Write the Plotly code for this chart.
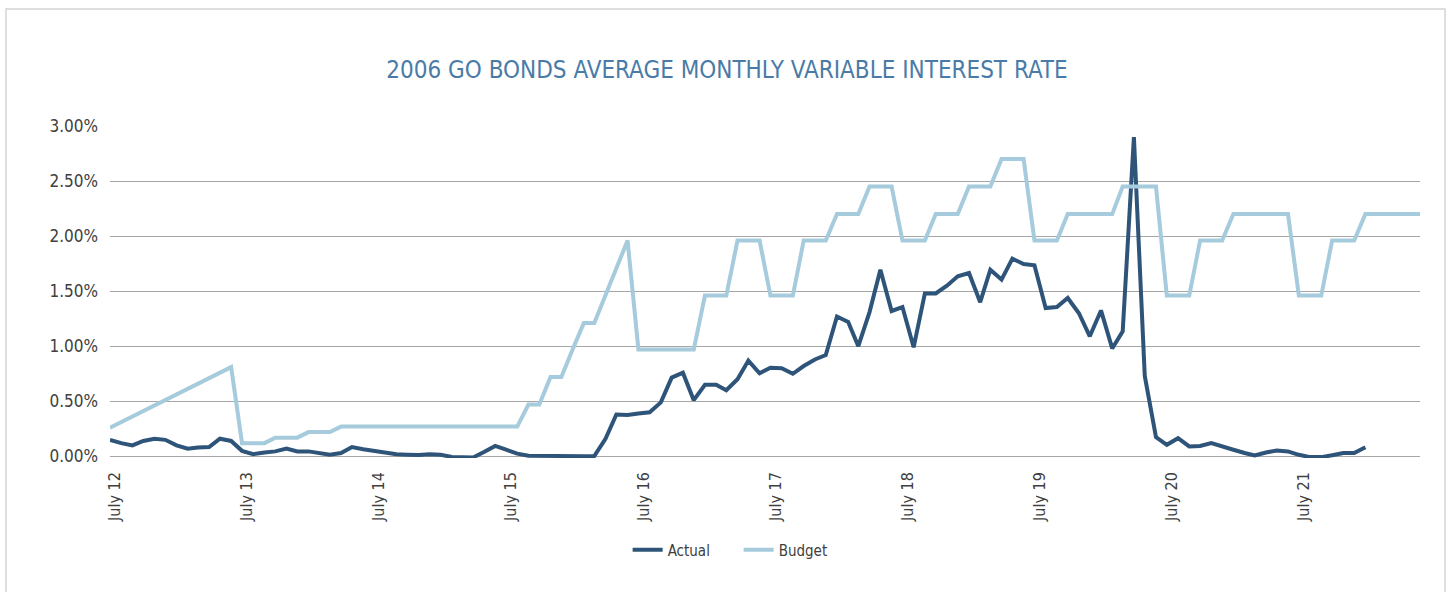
import plotly.graph_objects as go
import pandas as pd

# monthly points, July 2012 - June 2022
months = pd.date_range("2012-07-01", periods=120, freq="MS")

# rates in percent
actual = [
    0.15, 0.12, 0.10, 0.14, 0.16, 0.15, 0.10, 0.07, 0.08, 0.085, 0.16, 0.14,
    0.05, 0.02, 0.035, 0.045, 0.07, 0.045, 0.045, 0.025, 0.015, 0.03, 0.085, 0.065,
    0.05, 0.035, 0.02, 0.015, 0.012, 0.02, 0.015, -0.005, -0.005, -0.01, 0.04, 0.095,
    0.06, 0.025, 0.005, 0.003, 0.002, 0.002, 0.002, 0.002, 0.003, 0.16, 0.38, 0.375,
    0.39, 0.40, 0.49, 0.715, 0.76, 0.51, 0.65, 0.65, 0.60, 0.70, 0.87, 0.755,
    0.805, 0.80, 0.75, 0.82, 0.88, 0.92, 1.27, 1.22, 1.00, 1.31, 1.695, 1.32,
    1.356, 0.99, 1.48, 1.48, 1.55, 1.635, 1.665, 1.40, 1.695, 1.605, 1.795, 1.747,
    1.735, 1.347, 1.356, 1.438, 1.30, 1.09, 1.325, 0.98, 1.135, 2.90, 0.73, 0.174,
    0.105, 0.165, 0.09, 0.095, 0.12, 0.095, 0.06, 0.03, 0.008, 0.035, 0.053, 0.045,
    0.014, -0.007, -0.007, 0.01, 0.03, 0.03, 0.083, None, None, None, None, None,
]

budget = [
    0.26, 0.31, 0.36, 0.41, 0.46, 0.51, 0.56, 0.61, 0.66, 0.71, 0.76, 0.81,
    0.12, 0.12, 0.12, 0.17, 0.17, 0.17, 0.22, 0.22, 0.22, 0.27, 0.27, 0.27,
    0.27, 0.27, 0.27, 0.27, 0.27, 0.27, 0.27, 0.27, 0.27, 0.27, 0.27, 0.27,
    0.27, 0.27, 0.47, 0.47, 0.72, 0.72, 0.97, 1.21, 1.21, 1.46, 1.71, 1.96,
    0.97, 0.97, 0.97, 0.97, 0.97, 0.97, 1.46, 1.46, 1.46, 1.96, 1.96, 1.96,
    1.46, 1.46, 1.46, 1.96, 1.96, 1.96, 2.20, 2.20, 2.20, 2.45, 2.45, 2.45,
    1.96, 1.96, 1.96, 2.20, 2.20, 2.20, 2.45, 2.45, 2.45, 2.70, 2.70, 2.70,
    1.96, 1.96, 1.96, 2.20, 2.20, 2.20, 2.20, 2.20, 2.45, 2.45, 2.45, 2.45,
    1.46, 1.46, 1.46, 1.96, 1.96, 1.96, 2.20, 2.20, 2.20, 2.20, 2.20, 2.20,
    1.46, 1.46, 1.46, 1.96, 1.96, 1.96, 2.20, 2.20, 2.20, 2.20, 2.20, 2.20,
]

y_ticks = [0, 0.5, 1.0, 1.5, 2.0, 2.5, 3.0]
y_labels = ["0.00%", "0.50%", "1.00%", "1.50%", "2.00%", "2.50%", "3.00%"]

FONT = "Liberation Sans Narrow, DejaVu Sans Condensed, Roboto, sans-serif"
TEXT = "#404040"

fig = go.Figure()
fig.add_trace(go.Scatter(x=months, y=actual, name="Actual", mode="lines",
                         line=dict(color="#2f5479", width=4)))
fig.add_trace(go.Scatter(x=months, y=budget, name="Budget", mode="lines",
                         line=dict(color="#a5cbdc", width=4)))

# outer light frame around the whole chart
fig.add_shape(type="rect", xref="paper", yref="paper",
              x0=-0.0794, x1=1.0191, y0=-0.43, y1=1.3527,
              line=dict(color="#d4d4d4", width=1.5), layer="below")

fig.update_layout(
    width=1454, height=592,
    margin=dict(l=110, r=34, t=126, b=134),
    paper_bgcolor="white", plot_bgcolor="white",
    font=dict(family=FONT, color=TEXT, size=16),
    title=dict(text="2006 GO BONDS AVERAGE MONTHLY VARIABLE INTEREST RATE",
               x=0.5, xref="container", xanchor="center",
               y=0.882, yref="container", yanchor="middle",
               font=dict(family=FONT, size=24, color="#4a7ba7")),
    legend=dict(orientation="h", x=0.508, xref="container", xanchor="center",
                y=0.071, yref="container", yanchor="middle",
                font=dict(size=15, color=TEXT), itemwidth=30, entrywidth=66),
    showlegend=True,
)

fig.update_xaxes(
    range=[months[0], months[-1]],
    tick0="2012-07-01", dtick="M12", tickformat="%B %y",
    tickangle=-90, ticklabelshift=5, ticklabelstandoff=10,
    showgrid=False, zeroline=False, showline=False, ticks="",
    tickfont=dict(size=16, color=TEXT),
)

fig.update_yaxes(
    range=[-0.015, 3.0],
    tickvals=y_ticks, ticktext=y_labels,
    showgrid=True, gridcolor="#a6a6a6", gridwidth=1,
    zeroline=False, showline=False, ticks="",
    tickfont=dict(size=17, color=TEXT), ticklabelstandoff=11,
)

fig.write_html("out.html", config={"displayModeBar": False},
               post_script="document.body.style.margin='0';")
